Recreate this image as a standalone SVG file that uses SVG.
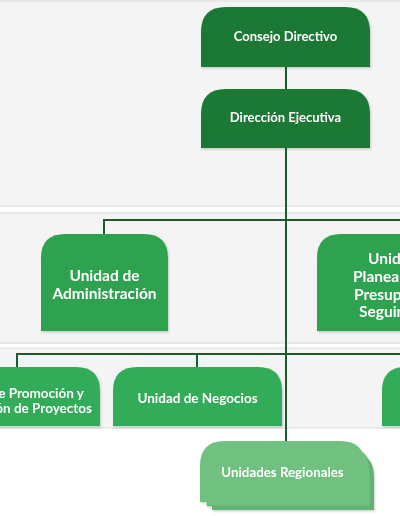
<svg xmlns="http://www.w3.org/2000/svg" width="400" height="516" viewBox="0 0 400 516">
<defs>
<style>
.band{fill:#f4f4f4;stroke:#e4e4e4;stroke-width:1.5}
.n1{fill:#1f7834}
.n2{fill:#2ea24f}
.n3{fill:#33ac59}
.n4{fill:#6fc07f}
.n4b{fill:#62b373}
.t{font-family:Lato,"Open Sans","DejaVu Sans",sans-serif;font-weight:bold;fill:#ffffff;text-anchor:middle;font-size:13px}
.big{font-size:15.5px}
.st{text-anchor:start}
.c{fill:none;stroke:#1f5a2d;stroke-width:2}
</style>
<filter id="sh" x="-10%" y="-10%" width="130%" height="130%"><feDropShadow dx="1" dy="1.5" stdDeviation="1.2" flood-color="#000" flood-opacity="0.18"/></filter>
</defs>
<rect x="0" y="0" width="400" height="516" fill="#ffffff"/>
<rect class="band" x="-2" y="1" width="404" height="205"/>
<rect class="band" x="-2" y="213" width="404" height="130"/>
<rect class="band" x="-2" y="348" width="404" height="80"/>
<g id="connectors">
<path class="c" d="M286 66V90"/>
<path class="c" d="M286 147V442"/>
<path class="c" d="M104 234V220H402"/>
<path class="c" d="M17 367V354H402"/>
<path class="c" d="M197 354V367"/>
</g>
<g id="consejo" filter="url(#sh)">
<path class="n1" d="M201 67V32Q201 7 226 7H345Q370 7 370 32V67Z"/>
<text class="t" x="285.5" y="40.5">Consejo Directivo</text>
</g>
<g id="direccion" filter="url(#sh)">
<path class="n1" d="M201 148V114Q201 89 226 89H345Q370 89 370 114V148Z"/>
<text class="t" x="285.5" y="122">Dirección Ejecutiva</text>
</g>
<g id="administracion" filter="url(#sh)">
<path class="n2" d="M41 331V258Q41 234 65 234H144Q168 234 168 258V331Z"/>
<text class="t big" x="104.5" y="281">Unidad de</text>
<text class="t big" x="104.5" y="298.5">Administración</text>
</g>
<g id="planeamiento" filter="url(#sh)">
<path class="n2" d="M317 331V258Q317 234 341 234H420V331Z"/>
<text class="t big st" x="368" y="264">Unid</text>
<text class="t big st" x="353" y="282">Planea</text>
<text class="t big st" x="354" y="299.5">Presup</text>
<text class="t big st" x="359" y="317">Seguim</text>
</g>
<g id="promocion" filter="url(#sh)">
<path class="n3" d="M-70 426V391Q-70 367 -46 367H76Q100 367 100 391V426Z"/>
<text class="t" x="84" y="397.5" style="text-anchor:end;font-size:13.5px">e Promoción y</text>
<text class="t" x="92" y="413" style="text-anchor:end;font-size:13.5px">ón de Proyectos</text>
</g>
<g id="negocios" filter="url(#sh)">
<path class="n3" d="M113 426V391Q113 367 137 367H258Q282 367 282 391V426Z"/>
<text class="t" x="197.5" y="402.5" style="font-size:13.5px">Unidad de Negocios</text>
</g>
<g id="derecha3" filter="url(#sh)">
<path class="n3" d="M382 426V391Q382 367 406 367H420V426Z"/>
</g>
<g id="regionales" filter="url(#sh)">
<path class="n4b" d="M212 510V477Q212 452 237 452H349Q374 452 374 477V510Z"/>
<path class="n4" d="M207 506V472Q207 447 232 447H345Q370 447 370 472V506Z" stroke="#5fae70" stroke-width="0.5"/>
<path class="n4" d="M200 502V466Q200 441 225 441H340Q365 441 365 466V502Z"/>
<text class="t" x="282.5" y="477" style="font-size:13.3px">Unidades Regionales</text>
</g>
</svg>
